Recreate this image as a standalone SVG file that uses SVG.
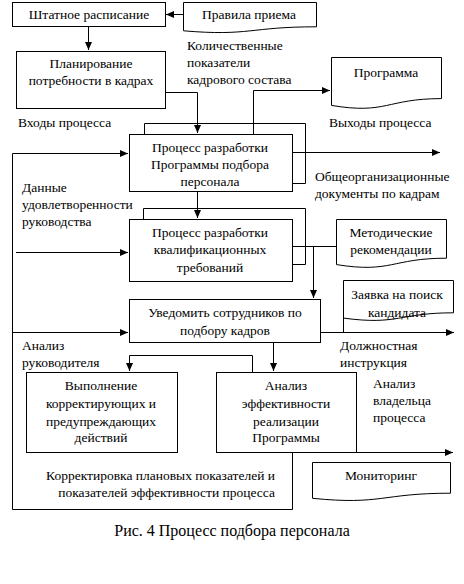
<svg xmlns="http://www.w3.org/2000/svg" width="464" height="584" viewBox="0 0 464 584">
<defs>
<marker id="ah" markerUnits="userSpaceOnUse" markerWidth="9" markerHeight="8" refX="8" refY="3.5" orient="auto">
<path d="M0,0 L8,3.5 L0,7 Z" fill="#000"/>
</marker>
<style>
text{font-family:'Liberation Serif','Times New Roman',Tinos,'DejaVu Serif',serif;font-size:13.5px;fill:#000}
.c{text-anchor:middle}
.r{text-anchor:end}
.box{fill:#fff;stroke:#000;stroke-width:1}
.frame{fill:none;stroke:#000;stroke-width:1}
.ln{fill:none;stroke:#000;stroke-width:1}
.ar{fill:none;stroke:#000;stroke-width:1;marker-end:url(#ah)}
.cap{font-size:16px}
</style>
</defs>
<rect width="464" height="584" fill="#fff"/>

<g id="connectors">
<path class="ar" d="M183,14.5 H166"/>
<path class="ar" d="M88.5,26 V50"/>
<path class="ar" d="M165,92.5 H197.5 V133"/>
<path class="ar" d="M253.5,134 V90.5 H330"/>
<path class="ar" d="M12.5,153.5 H128"/>
<path class="ln" d="M12.5,153.5 V509.5 H292.5 V452"/>
<path class="ar" d="M292,152.5 H440"/>
<path class="ar" d="M197.5,192 V218"/>
<path class="ar" d="M16,252.5 H128"/>
<path class="ln" d="M292,246.5 H336"/>
<path class="ar" d="M313.5,246.5 V298"/>
<path class="ar" d="M12.5,332.5 H128"/>
<path class="ar" d="M321,332.5 H454"/>
<path class="ar" d="M273.5,343 V371"/>
<path class="ln" d="M252.5,372 V355.5 H129.5"/>
<path class="ar" d="M129.5,355.5 V371"/>
<path class="ar" d="M356,452.5 H453"/>
</g>

<g id="shtat">
<rect class="box" x="12.5" y="2.5" width="153" height="24"/>
<text class="c" x="89" y="19">Штатное расписание</text>
</g>

<g id="pravila">
<path class="box" d="M183.5,2.5 H316.5 V26.8 C249.5,26.8 249.5,36.4 183.5,30.8 Z"/>
<text class="c" x="249" y="19">Правила приема</text>
</g>

<g id="kol-label">
<text x="187" y="49.5">Количественные</text>
<text x="187" y="66.5">показатели</text>
<text x="187" y="83.5">кадрового состава</text>
</g>

<g id="plan">
<rect class="box" x="16.5" y="51.5" width="149" height="57"/>
<text class="c" x="91" y="67.5">Планирование</text>
<text class="c" x="91" y="84.5">потребности в кадрах</text>
</g>

<g id="programma">
<path class="box" d="M331.5,57.5 H441.5 V98.6 C386.5,98.6 386.5,114.7 331.5,105.4 Z"/>
<text class="c" x="386" y="76.5">Программа</text>
</g>

<g id="io-labels">
<text x="18" y="126.5">Входы процесса</text>
<text x="329" y="126.5">Выходы процесса</text>
</g>

<g id="proc1">
<path class="frame" d="M144.5,134 V123.5 H305.5 V183.5 H292"/>
<rect class="box" x="129.5" y="134.5" width="163" height="57"/>
<text class="c" x="210" y="151.5">Процесс разработки</text>
<text class="c" x="210" y="168.5">Программы подбора</text>
<text class="c" x="210" y="186">персонала</text>
</g>

<g id="obsh-label">
<text x="315" y="180.5">Общеорганизационные</text>
<text x="315" y="198">документы по кадрам</text>
</g>

<g id="dannye-label">
<text x="22" y="191.5">Данные</text>
<text x="22" y="208.5">удовлетворенности</text>
<text x="22" y="226">руководства</text>
</g>

<g id="proc2">
<path class="frame" d="M143.5,219 V208.5 H305.5 V264.5 H292"/>
<rect class="box" x="129.5" y="219.5" width="163" height="62"/>
<text class="c" x="210" y="237">Процесс разработки</text>
<text class="c" x="210" y="254">квалификационных</text>
<text class="c" x="210" y="271.5">требований</text>
</g>

<g id="metod">
<path class="box" d="M336.5,219.5 H446.5 V258.2 C391.5,258.2 391.5,273.4 336.5,264.6 Z"/>
<text class="c" x="391" y="236.5">Методические</text>
<text class="c" x="391" y="253.5">рекомендации</text>
</g>

<g id="uved">
<rect class="box" x="129.5" y="299.5" width="191" height="43"/>
<text class="c" x="225" y="316.5">Уведомить сотрудников по</text>
<text class="c" x="225" y="334.5">подбору кадров</text>
</g>

<g id="zayavka">
<path class="box" d="M343.5,280.5 H453.5 V312.8 C398.5,312.8 398.5,325.5 343.5,318.1 Z"/>
<path class="ln" d="M343.5,318 V332"/>
<text class="c" x="397" y="298.5">Заявка на поиск</text>
<text class="c" x="397" y="316.5">кандидата</text>
</g>

<g id="labels-mid">
<text x="340" y="349.5">Должностная</text>
<text x="340" y="366.5">инструкция</text>
<text x="373" y="387.5">Анализ</text>
<text x="373" y="404.5">владельца</text>
<text x="373" y="421.5">процесса</text>
<text x="22" y="349.5">Анализ</text>
<text x="22" y="366.5">руководителя</text>
</g>

<g id="vypoln">
<rect class="box" x="26.5" y="372.5" width="151" height="80"/>
<text class="c" x="101" y="389.5">Выполнение</text>
<text class="c" x="101" y="407.5">корректирующих и</text>
<text class="c" x="101" y="426">предупреждающих</text>
<text class="c" x="101" y="441.5">действий</text>
</g>

<g id="analiz">
<rect class="box" x="216.5" y="372.5" width="140" height="80"/>
<text class="c" x="286" y="389.5">Анализ</text>
<text class="c" x="286" y="407.5">эффективности</text>
<text class="c" x="286" y="426">реализации</text>
<text class="c" x="286" y="441.5">Программы</text>
</g>

<g id="korr-label">
<text class="r" x="275" y="479.5">Корректировка плановых показателей и</text>
<text class="r" x="275" y="496.5">показателей эффективности процесса</text>
</g>

<g id="monitoring">
<path class="box" d="M312.5,462.5 H450.5 V493.2 C381.5,493.2 381.5,505.3 312.5,498.3 Z"/>
<text class="c" x="381" y="479.5">Мониторинг</text>
</g>

<g id="caption">
<text class="c cap" x="232" y="535.5">Рис. 4 Процесс подбора персонала</text>
</g>
</svg>
